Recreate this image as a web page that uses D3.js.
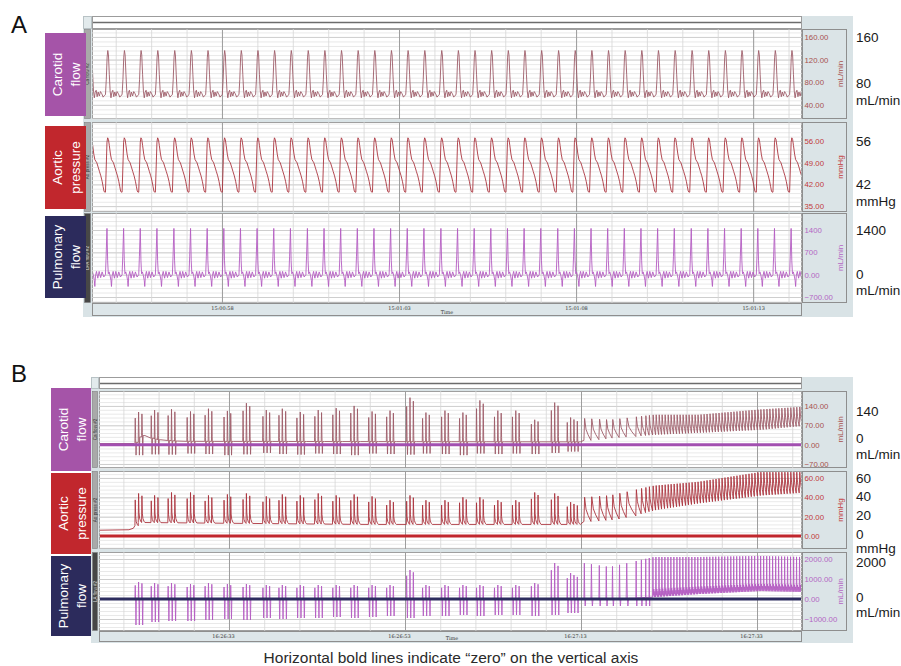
<!DOCTYPE html>
<html>
<head>
<meta charset="utf-8">
<script src="https://cdn.jsdelivr.net/npm/d3@7"></script>
<style>
body{margin:0;background:#fff}
svg{display:block;font-family:"Liberation Sans",Arial,sans-serif}
</style>
</head>
<body>
<div id="chart"></div>
<script>
// ---------- panel A : steady rhythm ----------
var aStart = "15:00:54.330", aEnd = "15:01:14.380";
var aTimeTicks = ["15:00:58", "15:01:03", "15:01:08", "15:01:13"];
// beat onsets, seconds after aStart
var aBeatTimes = [-0.09,0.38,0.85,1.32,1.79,2.27,2.74,3.21,3.68,4.15,4.62,5.09,5.56,6.04,6.51,6.98,7.45,7.92,
  8.39,8.86,9.33,9.81,10.28,10.75,11.22,11.69,12.16,12.63,13.11,13.58,14.05,14.52,14.99,15.46,15.93,16.40,
  16.88,17.35,17.82,18.29,18.76,19.23,19.70,20.17];
// [dip, base, peak]
var aCarotidLevels = [50, 58, 136];
var aAorticLevels = [39.5, 39.5, 57];
var aPulmLevels = [-370, 0, 1450];
// one beat: [phase, level] ; 1 = peak, 0 = base, -1 = dip
var carotidShapeA = [[0,0],[0.05,0.35],[0.1,0.85],[0.14,1],[0.18,0.9],[0.23,0.45],[0.28,0.08],[0.33,-0.7],
  [0.38,0.05],[0.44,0.1],[0.5,-0.45],[0.56,0.06],[0.63,-0.3],[0.7,0.07],[0.78,0.02],[0.86,-0.55],[0.93,-0.2],[1,0]];
var aorticShapeA = [[0,0],[0.05,0.5],[0.09,0.92],[0.13,1],[0.18,0.97],[0.23,0.86],[0.3,0.7],[0.36,0.6],
  [0.42,0.57],[0.48,0.54],[0.56,0.46],[0.64,0.38],[0.72,0.3],[0.8,0.2],[0.86,0.1],[0.91,0.02],[0.95,0],[1,0]];
var pulmShapeA = [[0,0],[0.04,0.4],[0.09,1],[0.13,0.3],[0.17,0.02],[0.22,0.06],[0.28,-0.1],[0.33,-0.5],[0.36,-1],
  [0.4,-0.1],[0.46,0.07],[0.54,-0.3],[0.62,0.07],[0.71,-0.25],[0.8,0.06],[0.9,-0.2],[1,0]];

var aRanges = [[15, 174], [33.1, 62.1], [-888, 1933]];
var aTicks = [[40, 80, 120, 160], [35, 42, 49, 56], [-700, 0, 700, 1400]];
var aTickText = [["40.00","80.00","120.00","160.00"], ["35.00","42.00","49.00","56.00"], ["\u2212700.00","0.00","700","1400"]];
var aSideValues = [[160, 80], [56, 42], [1400, 0]];

// ---------- panel B : recovery ----------
var bStart = "16:26:18.230", bEnd = "16:27:38.110";
var bTimeTicks = ["16:26:33", "16:26:53", "16:27:13", "16:27:33"];
var bBurstStarts = [4.08,5.90,7.82,9.98,12.02,14.17,16.33,18.59,20.41,22.45,24.49,26.53,28.57,30.61,32.65,
  34.92,36.73,38.89,40.93,42.86,44.90,46.94,49.09,51.36,53.17];
var bBurstSize = [3,3,3,3,3,3,3,3,3,3,3,3,3,3,3,3,3,3,3,3,3,3,3,3,4];
var bInBurstOffsets = [0, 0.38, 0.76, 1.14];
var bInBurstGap = 0.38;
var bInBurstScale = [0.8, 1, 0.92, 0.85];
var bCarotidPeaks = [118,125,128,120,130,122,150,125,130,118,125,132,140,120,123,170,116,123,116,160,123,123,90,152,98];
var bCarotidDips = [-38,-35,-36,-32,-34,-38,-35,-30,-34,-36,-32,-34,-38,-32,-34,-36,-32,-34,-38,-32,-34,-32,-34,-30,-25];
var bAorticPeaks = [44,42,45,45,42,43,44,41,43,42,44,42,43,41,37,42,37,37,40,40,37,37,45,44,35];
var bPulmPeaks = [850,800,800,750,800,750,750,700,700,700,700,700,700,700,700,1450,700,700,700,700,700,700,800,1800,1300];
var bPulmDips = [-1300,-1150,-1100,-1100,-1050,-1000,-1050,-950,-1000,-950,-950,-900,-950,-900,-850,-950,-850,-850,-800,-850,-800,-800,-850,-800,-700];
// baselines before the regular rhythm
var bCarotidBaseT = [0, 4.0, 4.6, 6.5, 9, 54], bCarotidBaseV = [4, 4, 35, 18, 12, 10];
var bAorticBaseT = [0, 3.4, 3.9, 4.3, 30, 54], bAorticBaseV = [6, 6.5, 8, 14, 12, 12];
var bPulmBaseT = [0, 54], bPulmBaseV = [0, 0];
// single beats after the bursts (seconds after bStart)
var bLateBeats = [55.1,55.9,56.8,57.6,58.3,59.1,59.9,61.0,61.6,62.1,62.5,
  62.90,63.24,63.59,63.92,64.26,64.61,64.94,65.28,65.63,65.96,66.30,66.65,66.98,67.32,67.67,68.00,68.34,68.69,
  69.02,69.36,69.71,70.04,70.38,70.73,71.06,71.40,71.75,72.08,72.42,72.77,73.10,73.44,73.79,74.12,74.46,74.81,
  75.14,75.48,75.83,76.16,76.50,76.85,77.18,77.52,77.87,78.20,78.54,78.89,79.22,79.56,79.90];
var bFastFrom = 62.85;
var bLateEnvT = [55, 58, 63, 68, 75, 80];
var bCarotidLow = [15, 25, 36, 43, 54, 69], bCarotidHigh = [95, 90, 108, 108, 127, 137];
var bAorticLow = [15, 17, 27, 34, 42, 45], bAorticHigh = [40, 42, 52, 56, 66, 66];
var bPulmLow = [0, 0, 100, 250, 400, 350], bPulmHigh = [1800, 1600, 2100, 2100, 2150, 2100];
var bPulmSlowDip = -350;

var carotidBurstShape = [[0,0],[0.1,1],[0.22,0.15],[0.34,-1],[0.46,0],[1,0]];
var aorticBurstShape = [[0,0],[0.1,1],[0.22,0.35],[0.4,0.15],[0.7,0.05],[1,0]];
var pulmBurstShape = [[0,0],[0.1,1],[0.2,0],[0.32,-1],[0.44,0],[1,0]];
var pressSlowShape = [[0,0],[0.1,1],[0.3,0.5],[0.6,0.25],[1,0]];
var pulmSlowShape = [[0,0],[0.06,1],[0.12,0],[0.18,-1],[0.26,0],[1,0]];
var pressFastShape = [[0,0],[0.2,1],[0.45,0.5],[0.7,0.25],[1,0]];
var pulmFastShape = [[0,0],[0.12,1],[0.25,0.04],[0.42,0.2],[0.58,0],[0.78,0.14],[1,0]];

var bRanges = [[-84.5, 194], [-13.4, 67.2], [-1600, 2350]];
var bTicks = [[-70, 0, 70, 140], [0, 20, 40, 60], [-1000, 0, 1000, 2000]];
var bTickText = [["\u221270.00","0.00","70.00","140.00"], ["0.00","20.00","40.00","60.00"], ["\u22121000.00","0.00","1000.00","2000.00"]];
var bSideValues = [[140, 0], [60, 40, 20, 0], [2000, 0]];

var channelNames = [["Carotid", "flow"], ["Aortic", "pressure"], ["Pulmonary", "flow"]];
var units = ["mL/min", "mmHg", "mL/min"];
var aStripNames = ["Ca flow #2", "Ao press #2", "LPA flow #2"];
var bStripNames = ["Ca flow #2", "Ao press #2", "LA flow #2"];
var caption = "Horizontal bold lines indicate \u201czero\u201d on the vertical axis";

// ---------- styles ----------
var boxColors = ["#a554a8", "#c1272d", "#2c2b5c"];
var tickColors = ["#a8524f", "#c23a3a", "#b466c4"];
var traceColors = ["#9e5c69", "#ac343e", "#b45cc2"];
var zeroColors = ["#a24fb0", "#c1272d", "#2c2c5e"];
var stripFills = ["#a9a9a9", "#a9a9a9", "#474747"];
var FRAME = "#d9e3e6";

var parseMs = d3.timeParse("%H:%M:%S.%L"), parseS = d3.timeParse("%H:%M:%S");
var fmt = d3.timeFormat("%H:%M:%S");

var svg = d3.select("#chart").append("svg").attr("width", 901).attr("height", 666);

function shapePoints(t0, dur, shape, lv) {
  return shape.map(function(p) {
    var v = p[1];
    var val = v >= 0 ? lv[1] + v * (lv[2] - lv[1]) : lv[1] + (-v) * (lv[0] - lv[1]);
    return [t0 + p[0] * dur, val];
  });
}

function buildATrace(shape, levels) {
  var pts = [];
  aBeatTimes.forEach(function(t, i) {
    var dur = i < aBeatTimes.length - 1 ? aBeatTimes[i + 1] - t : t - aBeatTimes[i - 1];
    pts = pts.concat(shapePoints(t, dur, shape, levels));
  });
  return pts;
}

function buildBTrace(ch) {
  var baseAt = d3.scaleLinear().domain(ch.baseT).range(ch.baseV).clamp(true);
  var lowAt = d3.scaleLinear().domain(bLateEnvT).range(ch.low).clamp(true);
  var highAt = d3.scaleLinear().domain(bLateEnvT).range(ch.high).clamp(true);
  var pts = [[-1, baseAt(0)]].concat(ch.baseT.filter(function(t) { return t < bBurstStarts[0]; })
    .map(function(t) { return [t, baseAt(t)]; }));
  bBurstStarts.forEach(function(s, i) {
    for (var j = 0; j < bBurstSize[i]; j++) {
      var t = s + bInBurstOffsets[j], b = baseAt(t);
      var pk = b + (ch.peaks[i] - b) * bInBurstScale[j];
      pts = pts.concat(shapePoints(t, bInBurstGap, ch.burstShape, [ch.dips[i], b, pk]));
    }
  });
  bLateBeats.forEach(function(t, i) {
    var next = i < bLateBeats.length - 1 ? bLateBeats[i + 1] : t + 0.34;
    var fast = t >= bFastFrom;
    var dip = fast ? lowAt(t) : ch.slowDip;
    pts = pts.concat(shapePoints(t, next - t, fast ? ch.fastShape : ch.slowShape, [dip, lowAt(t), highAt(t)]));
  });
  return pts;
}

var panelA = {
  name: "A", start: parseMs(aStart), end: parseMs(aEnd), ticks: aTimeTicks.map(parseS),
  minorFrom: parseS("15:00:55"), minorStep: 1,
  ranges: aRanges, tickVals: aTicks, tickText: aTickText, side: aSideValues, strips: aStripNames,
  traces: [buildATrace(carotidShapeA, aCarotidLevels), buildATrace(aorticShapeA, aAorticLevels), buildATrace(pulmShapeA, aPulmLevels)],
  zero: false
};
var panelB = {
  name: "B", start: parseMs(bStart), end: parseMs(bEnd), ticks: bTimeTicks.map(parseS),
  minorFrom: parseS("16:26:21"), minorStep: 4,
  ranges: bRanges, tickVals: bTicks, tickText: bTickText, side: bSideValues, strips: bStripNames,
  traces: [
    buildBTrace({baseT: bCarotidBaseT, baseV: bCarotidBaseV, low: bCarotidLow, high: bCarotidHigh, peaks: bCarotidPeaks,
      dips: bCarotidDips, burstShape: carotidBurstShape, slowShape: pressSlowShape, fastShape: pressFastShape, slowDip: 0}),
    buildBTrace({baseT: bAorticBaseT, baseV: bAorticBaseV, low: bAorticLow, high: bAorticHigh, peaks: bAorticPeaks,
      dips: bAorticPeaks.map(function() { return 0; }), burstShape: aorticBurstShape, slowShape: pressSlowShape, fastShape: pressFastShape, slowDip: 0}),
    buildBTrace({baseT: bPulmBaseT, baseV: bPulmBaseV, low: bPulmLow, high: bPulmHigh, peaks: bPulmPeaks,
      dips: bPulmDips, burstShape: pulmBurstShape, slowShape: pulmSlowShape, fastShape: pulmFastShape, slowDip: bPulmSlowDip})
  ],
  zero: true
};

var layoutA = {
  top: 16, stripBottom: 29, bottom: 317, colLeft: 83, plotLeft: 92, plotRight: 802,
  channels: [[29, 119], [122, 212], [213, 303]],
  boxX: [45, 86], boxes: [[33, 116], [126, 209], [216, 298]],
  titleY: 33, labelShift: 0, timeLabelX: 447,
  sideNudge: [[0, 1], [0, 0], [0, -1]], unitGap: [16.5, 16.5, 16.5]
};
var layoutB = {
  top: 377, stripBottom: 389, bottom: 643, colLeft: 91, plotLeft: 99, plotRight: 802,
  channels: [[391, 468], [471, 549], [552, 631]],
  boxX: [51, 91], boxes: [[388, 471], [473, 554], [556, 636]],
  titleY: 382, labelShift: -6, timeLabelX: 452,
  sideNudge: [[5, -6], [0, -1, -2, -2], [3, -2]], unitGap: [16, 14, 15.5]
};

function drawPanel(P, L) {
  var g = svg.append("g");
  var x = d3.scaleTime().domain([P.start, P.end]).range([L.plotLeft, L.plotRight]);
  var t0 = +P.start;
  var toDate = function(s) { return new Date(t0 + s * 1000); };
  var minorDates = d3.timeSecond.range(P.minorFrom, P.end, P.minorStep);

  g.append("text").attr("x", 11).attr("y", L.titleY).attr("font-size", 24).attr("fill", "#111").text(P.name);

  g.append("rect").attr("x", L.colLeft).attr("y", L.top).attr("width", 853 - L.colLeft).attr("height", L.bottom - L.top)
    .attr("fill", FRAME);
  g.append("rect").attr("x", L.colLeft + 0.5).attr("y", L.top + 0.5).attr("width", L.plotLeft - L.colLeft - 1)
    .attr("height", L.stripBottom - L.top - 1).attr("fill", "#e2eaec").attr("stroke", "#b8c2c5");

  // top strip
  g.append("rect").attr("x", L.plotLeft + 0.5).attr("y", L.top + 0.5).attr("width", L.plotRight - L.plotLeft - 1)
    .attr("height", L.stripBottom - L.top - 1).attr("fill", "#fff").attr("stroke", "#9c9c9c");
  g.append("line").attr("x1", L.plotLeft + 1).attr("x2", L.plotRight - 1)
    .attr("y1", L.top + 6.5).attr("y2", L.top + 6.5).attr("stroke", "#6c6c6c").attr("stroke-width", 1.6);

  P.traces.forEach(function(trace, i) {
    var c0 = L.channels[i][0], c1 = L.channels[i][1];
    var y = d3.scaleLinear().domain(P.ranges[i]).range([c1, c0]);
    var tv = P.tickVals[i], step = (tv[1] - tv[0]) / 5;
    var minorVals = d3.range(tv[0] - step * 10, P.ranges[i][1], step).filter(function(v) {
      return v > P.ranges[i][0] && v < P.ranges[i][1];
    });
    var ch = g.append("g");
    ch.append("rect").attr("x", L.plotLeft + 0.5).attr("y", c0 + 0.5).attr("width", L.plotRight - L.plotLeft - 1)
      .attr("height", c1 - c0 - 1).attr("fill", "#fff").attr("stroke", "#9f9f9f");

    // horizontal grid
    ch.append("g").attr("transform", "translate(" + L.plotLeft + ",0)")
      .call(d3.axisLeft(y).tickValues(minorVals).tickSize(-(L.plotRight - L.plotLeft)).tickFormat(""))
      .call(function(a) { a.select(".domain").remove(); a.selectAll("line").attr("stroke", "#e3e3e3").attr("stroke-width", 0.8); });
    ch.append("g").attr("transform", "translate(" + L.plotLeft + ",0)")
      .call(d3.axisLeft(y).tickValues(tv).tickSize(-(L.plotRight - L.plotLeft)).tickFormat(""))
      .call(function(a) { a.select(".domain").remove(); a.selectAll("line").attr("stroke", "#c7c7c7").attr("stroke-width", 0.8); });
    // vertical grid
    ch.append("g").attr("transform", "translate(0," + c1 + ")")
      .call(d3.axisBottom(x).tickValues(minorDates).tickSize(-(c1 - c0)).tickFormat(""))
      .call(function(a) { a.select(".domain").remove(); a.selectAll("line").attr("stroke", "#d6d6d6").attr("stroke-width", 0.8); });
    ch.append("g").attr("transform", "translate(0," + c1 + ")")
      .call(d3.axisBottom(x).tickValues(P.ticks).tickSize(-(c1 - c0)).tickFormat(""))
      .call(function(a) { a.select(".domain").remove(); a.selectAll("line").attr("stroke", "#9d9d9d").attr("stroke-width", 1); });

    var clipId = "clip" + P.name + i;
    ch.append("clipPath").attr("id", clipId).append("rect")
      .attr("x", L.plotLeft + 1).attr("y", c0 + 1).attr("width", L.plotRight - L.plotLeft - 2).attr("height", c1 - c0 - 2);
    var line = d3.line().x(function(d) { return x(toDate(d[0])); }).y(function(d) { return y(d[1]); });
    ch.append("path").datum(trace).attr("clip-path", "url(#" + clipId + ")").attr("d", line)
      .attr("fill", "none").attr("stroke", traceColors[i]).attr("stroke-width", 0.9).attr("stroke-linejoin", "round");

    if (P.zero) {
      ch.append("line").attr("x1", L.plotLeft + 1).attr("x2", L.plotRight - 1).attr("y1", y(0)).attr("y2", y(0))
        .attr("stroke", zeroColors[i]).attr("stroke-width", 3);
    }

    // left channel strip
    ch.append("rect").attr("x", L.colLeft + 1.5).attr("y", c0 + 0.5).attr("width", L.plotLeft - L.colLeft - 3)
      .attr("height", c1 - c0 - 1).attr("fill", stripFills[i]).attr("stroke", "#7f7f7f").attr("stroke-width", 0.6);
    ch.append("text").attr("transform", "translate(" + ((L.colLeft + L.plotLeft) / 2 + 1.6) + "," + ((c0 + c1) / 2) + ") rotate(-90)")
      .attr("text-anchor", "middle").attr("font-size", 4.6).attr("fill", i === 2 ? "#ddd" : "#333").text(P.strips[i]);

    // right axis box
    ch.append("rect").attr("x", L.plotRight + 0.5).attr("y", c0 + 0.5).attr("width", 44).attr("height", c1 - c0 - 1)
      .attr("fill", "#dbe4e7").attr("stroke", "#8e8e8e");
    ch.append("g").attr("transform", "translate(" + L.plotRight + ",0)")
      .call(d3.axisRight(y).tickValues(tv).tickSize(0).tickPadding(2.5).tickFormat(function(d, k) { return P.tickText[i][k]; }))
      .call(function(a) {
        a.select(".domain").remove();
        a.selectAll("text").attr("font-size", 7.8).attr("fill", tickColors[i]).attr("font-family", "Liberation Sans, Arial, sans-serif");
      });
    ch.append("text").attr("transform", "translate(" + (L.plotRight + 41) + "," + ((c0 + c1) / 2) + ") rotate(-90)")
      .attr("text-anchor", "middle").attr("font-size", 8).attr("fill", tickColors[i]).text(units[i]);

    // outside labels
    var sv = P.side[i], lastY = 0;
    sv.forEach(function(v, k) {
      lastY = y(v) + L.sideNudge[i][k];
      ch.append("text").attr("x", 856).attr("y", lastY).attr("dy", "0.36em").attr("font-size", 13.5).attr("fill", "#1a1a1a").text(v);
    });
    ch.append("text").attr("x", 856).attr("y", lastY + L.unitGap[i]).attr("dy", "0.36em").attr("font-size", 13.5)
      .attr("fill", "#1a1a1a").text(units[i]);

    // coloured name box
    var b0 = L.boxes[i][0], b1 = L.boxes[i][1], cx = (L.boxX[0] + L.boxX[1]) / 2, cy = (b0 + b1) / 2;
    ch.append("rect").attr("x", L.boxX[0]).attr("y", b0).attr("width", L.boxX[1] - L.boxX[0]).attr("height", b1 - b0)
      .attr("fill", boxColors[i]);
    var lbl = ch.append("text").attr("transform", "translate(" + cx + "," + cy + ") rotate(-90)")
      .attr("text-anchor", "middle").attr("font-size", 13.5).attr("fill", "#fff");
    lbl.append("tspan").attr("x", 0).attr("y", -3.5).text(channelNames[i][0]);
    lbl.append("tspan").attr("x", 0).attr("y", 14.5).text(channelNames[i][1]);
  });

  // time strip
  var cb = L.channels[2][1];
  g.append("rect").attr("x", L.plotLeft + 0.5).attr("y", cb + 0.5).attr("width", L.plotRight - L.plotLeft - 1)
    .attr("height", L.bottom - cb - 2).attr("fill", "#dde6e9").attr("stroke", "#8e8e8e");
  g.append("g").attr("transform", "translate(" + L.labelShift + "," + cb + ")")
    .call(d3.axisBottom(x).tickValues(P.ticks).tickSize(0).tickPadding(3).tickFormat(fmt))
    .call(function(a) {
      a.select(".domain").remove();
      a.selectAll("text").attr("font-size", 5).attr("fill", "#333").attr("font-family", "DejaVu Serif, serif");
    });
  g.append("text").attr("x", L.timeLabelX).attr("y", L.bottom - 3).attr("text-anchor", "middle")
    .attr("font-size", 5).attr("fill", "#333").attr("font-family", "DejaVu Serif, serif").text("Time");
}

drawPanel(panelA, layoutA);
drawPanel(panelB, layoutB);

svg.append("text").attr("x", 451).attr("y", 663).attr("text-anchor", "middle").attr("font-size", 15.5)
  .attr("fill", "#2a2a2a").text(caption);
</script>
</body>
</html>
